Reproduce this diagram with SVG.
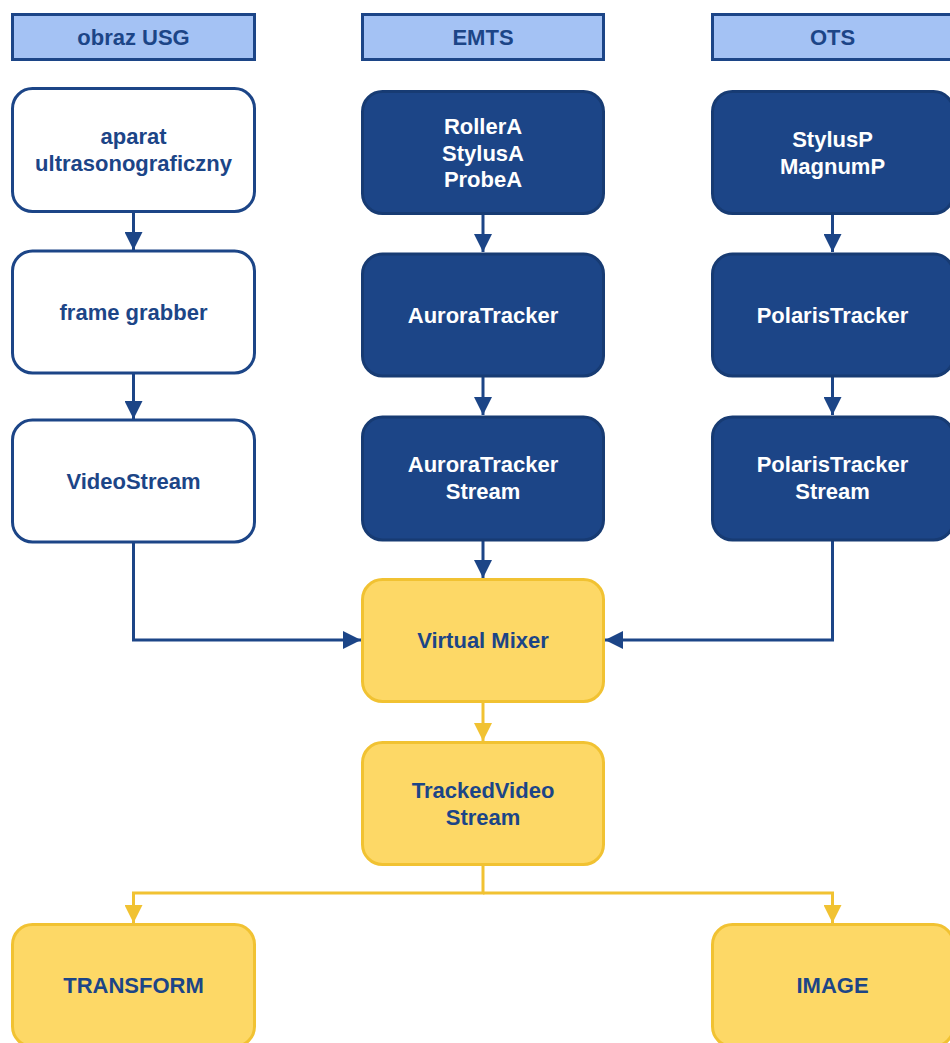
<svg xmlns="http://www.w3.org/2000/svg" width="950" height="1043" viewBox="0 0 950 1043">
<defs>
<style>
.hdr{fill:#a4c2f4;stroke:#1c4587;stroke-width:3}
.wb{fill:#ffffff;stroke:#1c4587;stroke-width:3}
.db{fill:#1c4587;stroke:#173b73;stroke-width:3}
.yb{fill:#fdd866;stroke:#f1c232;stroke-width:3}
text{font-family:"Liberation Sans",Arial,sans-serif;font-weight:bold;font-size:22px;text-anchor:middle}
.tb{fill:#1c4587}
.tw{fill:#ffffff}
.cb{fill:none;stroke:#1c4587;stroke-width:3}
.cy{fill:none;stroke:#f1c232;stroke-width:3}
</style>
<marker id="ab" viewBox="0 0 10 10" refX="10" refY="5" markerWidth="6" markerHeight="6" orient="auto" markerUnits="strokeWidth"><path d="M0,0 L10,5 L0,10 Z" fill="#1c4587"/></marker>
<marker id="ay" viewBox="0 0 10 10" refX="10" refY="5" markerWidth="6" markerHeight="6" orient="auto" markerUnits="strokeWidth"><path d="M0,0 L10,5 L0,10 Z" fill="#f1c232"/></marker>
</defs>
<g id="connectors">
<path class="cb" marker-end="url(#ab)" d="M133.5,211 V250"/>
<path class="cb" marker-end="url(#ab)" d="M133.5,373 V419"/>
<path class="cb" marker-end="url(#ab)" d="M133.5,542 V640 H361"/>
<path class="cb" marker-end="url(#ab)" d="M483,214 V252"/>
<path class="cb" marker-end="url(#ab)" d="M483,377 V415"/>
<path class="cb" marker-end="url(#ab)" d="M483,540 V578"/>
<path class="cb" marker-end="url(#ab)" d="M832.5,214 V252"/>
<path class="cb" marker-end="url(#ab)" d="M832.5,377 V415"/>
<path class="cb" marker-end="url(#ab)" d="M832.5,540 V640 H605"/>
<path class="cy" marker-end="url(#ay)" d="M483,702 V741"/>
<path class="cy" marker-end="url(#ay)" d="M483,864 V893 H133.5 V923"/>
<path class="cy" marker-end="url(#ay)" d="M483,893 H832.5 V923"/>
</g>
<g id="hdr-usg"><rect class="hdr" x="12.5" y="14.5" width="242" height="45"/><text class="tb" x="133.5" y="45">obraz USG</text></g>
<g id="hdr-emts"><rect class="hdr" x="362.5" y="14.5" width="241" height="45"/><text class="tb" x="483" y="45">EMTS</text></g>
<g id="hdr-ots"><rect class="hdr" x="712.5" y="14.5" width="241" height="45"/><text class="tb" x="832.5" y="45">OTS</text></g>
<g id="aparat"><rect class="wb" x="12.5" y="88.5" width="242" height="123" rx="20"/><text class="tb" x="133.5" y="144">aparat</text><text class="tb" x="133.5" y="171">ultrasonograficzny</text></g>
<g id="framegrabber"><rect class="wb" x="12.5" y="251" width="242" height="122" rx="20"/><text class="tb" x="133.5" y="320">frame grabber</text></g>
<g id="videostream"><rect class="wb" x="12.5" y="420" width="242" height="122" rx="20"/><text class="tb" x="133.5" y="489">VideoStream</text></g>
<g id="toolsA"><rect class="db" x="362.5" y="91.5" width="241" height="122" rx="20"/><text class="tw" x="483" y="134">RollerA</text><text class="tw" x="483" y="161">StylusA</text><text class="tw" x="483" y="187">ProbeA</text></g>
<g id="auroratracker"><rect class="db" x="362.5" y="254" width="241" height="122" rx="20"/><text class="tw" x="483" y="323">AuroraTracker</text></g>
<g id="aurorastream"><rect class="db" x="362.5" y="417" width="241" height="123" rx="20"/><text class="tw" x="483" y="472">AuroraTracker</text><text class="tw" x="483" y="499">Stream</text></g>
<g id="toolsP"><rect class="db" x="712.5" y="91.5" width="241" height="122" rx="20"/><text class="tw" x="832.5" y="147">StylusP</text><text class="tw" x="832.5" y="174">MagnumP</text></g>
<g id="polaristracker"><rect class="db" x="712.5" y="254" width="241" height="122" rx="20"/><text class="tw" x="832.5" y="323">PolarisTracker</text></g>
<g id="polarisstream"><rect class="db" x="712.5" y="417" width="241" height="123" rx="20"/><text class="tw" x="832.5" y="472">PolarisTracker</text><text class="tw" x="832.5" y="499">Stream</text></g>
<g id="virtualmixer"><rect class="yb" x="362.5" y="579.5" width="241" height="122" rx="20"/><text class="tb" x="483" y="648">Virtual Mixer</text></g>
<g id="trackedvideo"><rect class="yb" x="362.5" y="742.5" width="241" height="122" rx="20"/><text class="tb" x="483" y="798">TrackedVideo</text><text class="tb" x="483" y="825">Stream</text></g>
<g id="transform"><rect class="yb" x="12.5" y="924.5" width="242" height="122" rx="20"/><text class="tb" x="133.5" y="993">TRANSFORM</text></g>
<g id="image"><rect class="yb" x="712.5" y="924.5" width="241" height="122" rx="20"/><text class="tb" x="832.5" y="993">IMAGE</text></g>
</svg>
